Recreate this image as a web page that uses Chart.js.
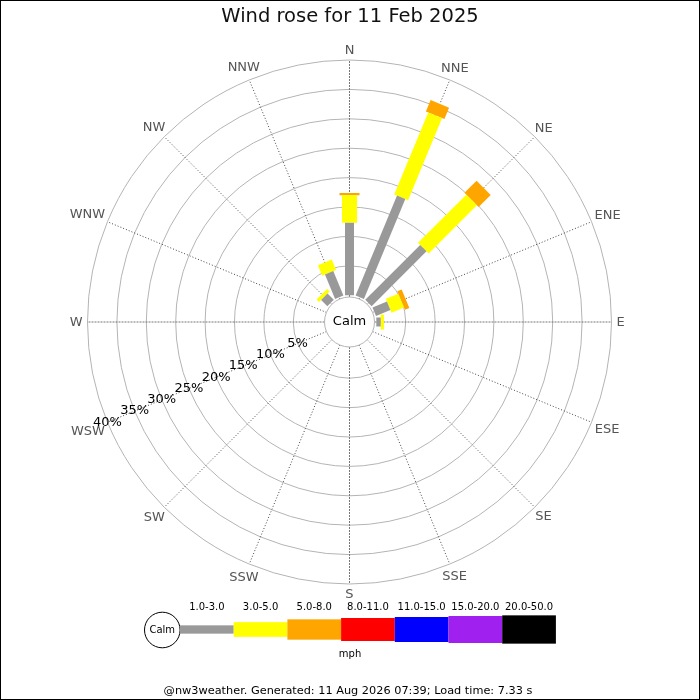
<!DOCTYPE html>
<html>
<head>
<meta charset="utf-8">
<script src="https://cdn.jsdelivr.net/npm/chart.js@4.4.1/dist/chart.umd.min.js"></script>
<style>
  body { margin: 0; background: #fff; }
  #wrap { width: 700px; height: 700px; }
</style>
</head>
<body>
<div id="wrap"><canvas id="canvas" width="700" height="700"></canvas></div>
<script>
"use strict"

// wind directions, clockwise from north
const directions = ['N', 'NNE', 'NE', 'ENE', 'E', 'ESE', 'SE', 'SSE',
                    'S', 'SSW', 'SW', 'WSW', 'W', 'WNW', 'NW', 'NNW'];

// speed classes (mph) and their colours
const speedBands = ['1.0-3.0', '3.0-5.0', '5.0-8.0', '8.0-11.0', '11.0-15.0', '15.0-20.0', '20.0-50.0'];
const bandColours = ['#999999', '#ffff00', '#ffa500', '#ff0000', '#0000ff', '#a020f0', '#000000'];

// percentage of time per direction, one array per speed class
const band1 = [12.3, 18.4, 13.2, 2.65, 0.75, 0, 0, 0, 0, 0, 0, 0, 0, 0, 1.5, 4.5];
const band2 = [4.7, 15.1, 11.6, 2.3, 0.55, 0, 0, 0, 0, 0, 0, 0, 0, 0, 0.6, 1.9];
const band3 = [0.4, 2.1, 2.9, 0.8, 0, 0, 0, 0, 0, 0, 0, 0, 0, 0, 0, 0];
const band4 = [0, 0, 0, 0, 0, 0, 0, 0, 0, 0, 0, 0, 0, 0, 0, 0];
const band5 = [0, 0, 0, 0, 0, 0, 0, 0, 0, 0, 0, 0, 0, 0, 0, 0];
const band6 = [0, 0, 0, 0, 0, 0, 0, 0, 0, 0, 0, 0, 0, 0, 0, 0];
const band7 = [0, 0, 0, 0, 0, 0, 0, 0, 0, 0, 0, 0, 0, 0, 0, 0];
const bands = [band1, band2, band3, band4, band5, band6, band7];

// radial ticks (%)
const ringTicks = [5, 10, 15, 20, 25, 30, 35, 40];

const title = 'Wind rose for 11 Feb 2025';
const footer = '@nw3weather. Generated: 11 Aug 2026 07:39; Load time: 7.33 s';

// drawing settings
const CALM = 4.56;           // calm hole, in % units
const RMAX = CALM + 40;
const barWidths = [9, 15, 20, 23, 25, 27, 28];
const FONT = '"DejaVu Sans", sans-serif';

function polar(r, i){
    let a = i * Math.PI / 8;
    return {x: r * Math.sin(a), y: r * Math.cos(a)};
}

// one line dataset per bar segment, stacked outwards
let datasets = [];
for (let i = 0; i < directions.length; i++){
    let r = CALM;
    for (let b = 0; b < bands.length; b++){
        let v = bands[b][i];
        if (v > 0){
            datasets.push({
                data: [polar(r, i), polar(r + v, i)],
                borderColor: bandColours[b],
                borderWidth: barWidths[b],
                borderCapStyle: 'butt',
                showLine: true,
                pointRadius: 0,
                pointHoverRadius: 0
            });
        }
        r += v;
    }
}

const rosePlugin = {
    id: 'rose',
    beforeDatasetsDraw(chart){
        let ctx = chart.ctx;
        let sx = chart.scales.x, sy = chart.scales.y;
        let cx = sx.getPixelForValue(0), cy = sy.getPixelForValue(0);
        let k = sx.getPixelForValue(1) - cx;
        ctx.save();
        // rings
        ctx.strokeStyle = '#b4b4b4';
        ctx.lineWidth = 1;
        ringTicks.forEach(t => {
            ctx.beginPath();
            ctx.arc(cx, cy, (CALM + t) * k, 0, Math.PI * 2);
            ctx.stroke();
        });
        // spokes
        for (let i = 0; i < directions.length; i++){
            let a = i * Math.PI / 8;
            let r0 = 25, r1 = RMAX * k;
            ctx.beginPath();
            if (i % 4 == 0){
                ctx.setLineDash([2, 1]);
                ctx.strokeStyle = '#777';
            } else {
                ctx.setLineDash([1, 2]);
                ctx.strokeStyle = '#444';
            }
            ctx.moveTo(cx + r0 * Math.sin(a), cy - r0 * Math.cos(a));
            ctx.lineTo(cx + r1 * Math.sin(a), cy - r1 * Math.cos(a));
            ctx.stroke();
        }
        ctx.restore();
    },
    afterDraw(chart){
        let ctx = chart.ctx;
        let sx = chart.scales.x, sy = chart.scales.y;
        let cx = sx.getPixelForValue(0), cy = sy.getPixelForValue(0);
        let k = sx.getPixelForValue(1) - cx;
        ctx.save();
        ctx.textAlign = 'center';
        ctx.textBaseline = 'middle';

        // calm circle
        ctx.beginPath();
        ctx.arc(cx, cy, 25, 0, Math.PI * 2);
        ctx.fillStyle = '#fff';
        ctx.fill();
        ctx.strokeStyle = '#b4b4b4';
        ctx.stroke();
        ctx.fillStyle = '#000';
        ctx.font = '13px ' + FONT;
        ctx.fillText('Calm', cx, cy);

        // direction labels
        ctx.fillStyle = '#555';
        ctx.font = '13px ' + FONT;
        directions.forEach((d, i) => {
            let a = i * Math.PI / 8;
            let w = ctx.measureText(d).width;
            let r = 272 + Math.abs(Math.sin(a)) * (w / 2 - 5);
            ctx.fillText(d, cx + r * Math.sin(a), cy - r * Math.cos(a) + 1);
        });

        // ring labels along WSW
        ctx.fillStyle = '#000';
        let aw = 11 * Math.PI / 8;
        ringTicks.forEach(t => {
            let r = (CALM + t) * k;
            ctx.fillText(t + '%', cx + r * Math.sin(aw), cy - r * Math.cos(aw));
        });

        // title
        ctx.font = '19.5px ' + FONT;
        ctx.fillStyle = '#111';
        ctx.fillText(title, 350, 17);

        // legend
        let lx = 180, bw = 53.7, ly = 629.5;
        ctx.beginPath();
        ctx.arc(162.3, 630, 17.8, 0, Math.PI * 2);
        ctx.fillStyle = '#fff';
        ctx.fill();
        ctx.strokeStyle = '#000';
        ctx.lineWidth = 1;
        ctx.stroke();
        ctx.fillStyle = '#000';
        ctx.font = '10px ' + FONT;
        ctx.fillText('Calm', 162.3, 630.5);
        speedBands.forEach((s, b) => {
            let h = [8.3, 14.7, 20.3, 23, 25, 27, 28.3][b];
            ctx.fillStyle = bandColours[b];
            ctx.fillRect(lx + b * bw, ly - h / 2, bw, h);
            ctx.fillStyle = '#000';
            ctx.fillText(s, lx + b * bw + bw / 2, 607.5);
        });
        ctx.fillText('mph', 350, 654);

        // footer
        ctx.font = '11.3px ' + FONT;
        ctx.fillText(footer, 348, 691);

        // frame
        ctx.strokeStyle = '#000';
        ctx.strokeRect(0.5, 0.5, 699, 699);
        ctx.restore();
    }
};

let ctx = document.getElementById('canvas').getContext('2d');
let myChart = new Chart(ctx, {
    type: 'scatter',
    data: { datasets: datasets },
    options: {
        responsive: false,
        animation: false,
        events: [],
        layout: { padding: { left: 87.5, right: 88.5, top: 60, bottom: 116 } },
        scales: {
            x: { type: 'linear', min: -RMAX, max: RMAX, display: false },
            y: { type: 'linear', min: -RMAX, max: RMAX, display: false }
        },
        plugins: {
            legend: { display: false },
            tooltip: { enabled: false },
            title: { display: false }
        }
    },
    plugins: [rosePlugin]
});
</script>
</body>
</html>
